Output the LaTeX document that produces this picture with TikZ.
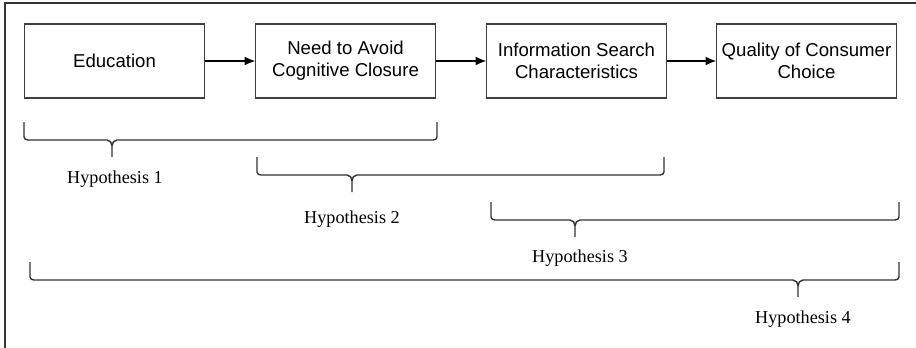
\documentclass[tikz,border=0pt]{standalone}
\usepackage{fontspec}
\setmainfont{Liberation Serif}
\setsansfont{Liberation Sans}
\usetikzlibrary{positioning}
\usetikzlibrary{arrows.meta}

% brace under a span: left x, right x, tip x, top y
\newcommand{\hypbrace}[4]{%
	\draw [brace] (#1,#4) -- (#1,#4-15) to[out=-90,in=180] (#1+4,#4-18) -- (#3-5,#4-18) to[out=0,in=90] (#3,#4-24) -- (#3,#4-35);
	\draw [brace] (#3,#4-24) to[out=90,in=180] (#3+5,#4-18) -- (#2-4,#4-18) to[out=0,in=-90] (#2,#4-15) -- (#2,#4);
}

\begin{document}
\begin{tikzpicture}[x=1pt,y=1pt,
		factor/.style={draw=black!75, line width=1.6pt, minimum width=180pt, minimum height=74pt,
			inner sep=0pt, outer sep=0pt, align=center, font=\sffamily\fontsize{18.6}{22}\selectfont},
		link/.style={line width=1.8pt, -{Latex[length=11pt,width=9pt]}},
		brace/.style={draw=black!80, line width=1.4pt},
		hyp/.style={anchor=base, inner sep=0pt, font=\fontsize{18.2}{22}\selectfont},
		node distance=51pt]
		\useasboundingbox (0,0) rectangle (916,-348);
		\draw [black!80, line width=1.4pt] (5,-348) -- (5,-3) -- (916,-3);
		% the four factors
		\node [factor] (edu) at (114.5,-61) {Education};
		\node [factor, right=of edu] (nfc) {Need to Avoid\\Cognitive Closure};
		\node [factor, right=of nfc] (info) {Information Search\\Characteristics};
		\node [factor, right=50pt of info] (choice) {Quality of Consumer\\Choice};
		\draw [link] (edu) -- (nfc);
		\draw [link] (nfc) -- (info);
		\draw [link] (info) -- (choice);
		% hypotheses
		\hypbrace{24}{437}{112}{-122}
		\node [hyp] (h1) at (115,-183) {Hypothesis 1};
		\hypbrace{257}{664}{352}{-157}
		\node [hyp] (h2) at (352,-223) {Hypothesis 2};
		\hypbrace{491}{899}{575}{-202}
		\node [hyp] (h3) at (580,-262) {Hypothesis 3};
		\hypbrace{30}{899}{798}{-262}
		\node [hyp] (h4) at (803,-323) {Hypothesis 4};
\end{tikzpicture}
\end{document}
